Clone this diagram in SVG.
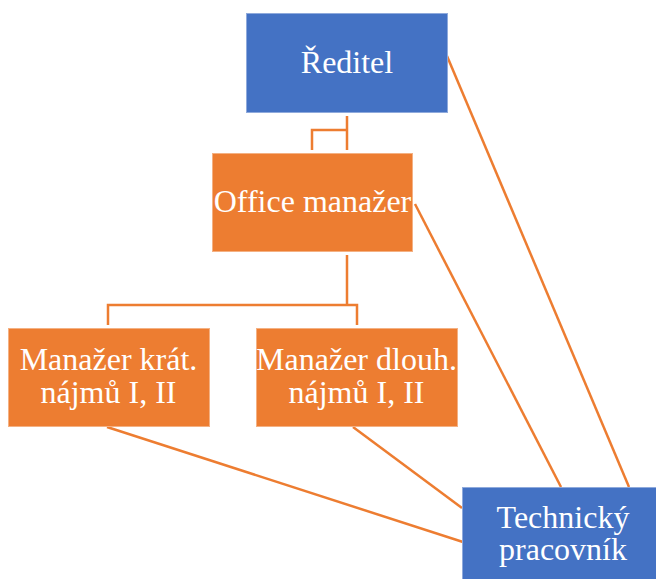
<svg xmlns="http://www.w3.org/2000/svg" width="656" height="579" viewBox="0 0 656 579">
  <style>
    .blue { fill: #4472C4; stroke: #8FAADC; stroke-width: 1; }
    .orange { fill: #ED7D31; stroke: #F4B183; stroke-width: 1; }
    .lbl { font-family: "Liberation Serif", "Times New Roman", serif; font-size: 32px; fill: #FFFFFF; text-anchor: middle; }
    .conn { fill: none; stroke: #ED7D31; stroke-width: 2.5; }
  </style>
  <rect width="656" height="579" fill="#FFFFFF"/>

  <g id="connectors">
    <path class="conn" d="M347,116 V150 M347,130 H312 V150"/>
    <path class="conn" d="M347,255 V305 M108,325 V305 H357 V325"/>
    <path class="conn" d="M447,56 L629,487"/>
    <path class="conn" d="M415,204 L561,487"/>
    <path class="conn" d="M107,427 L463,542"/>
    <path class="conn" d="M353,427 L462,508"/>
  </g>

  <g id="reditel">
    <rect class="blue" x="246.5" y="13.5" width="201" height="99"/>
    <text class="lbl" x="347" y="73">Ředitel</text>
  </g>

  <g id="office-manazer">
    <rect class="orange" x="212.5" y="153.5" width="200" height="98"/>
    <text class="lbl" x="312.5" y="212">Office manažer</text>
  </g>

  <g id="manazer-kratkodobych">
    <rect class="orange" x="8.5" y="328.5" width="201" height="98"/>
    <text class="lbl" x="108.5" y="370">Manažer krát.</text>
    <text class="lbl" x="108.5" y="403">nájmů I, II</text>
  </g>

  <g id="manazer-dlouhodobych">
    <rect class="orange" x="256.5" y="328.5" width="201" height="98"/>
    <text class="lbl" x="356.5" y="370">Manažer dlouh.</text>
    <text class="lbl" x="356.5" y="403">nájmů I, II</text>
  </g>

  <g id="technicky-pracovnik">
    <rect class="blue" x="462.5" y="487.5" width="200" height="98"/>
    <text class="lbl" x="563" y="528">Technický</text>
    <text class="lbl" x="563" y="560">pracovník</text>
  </g>
</svg>
